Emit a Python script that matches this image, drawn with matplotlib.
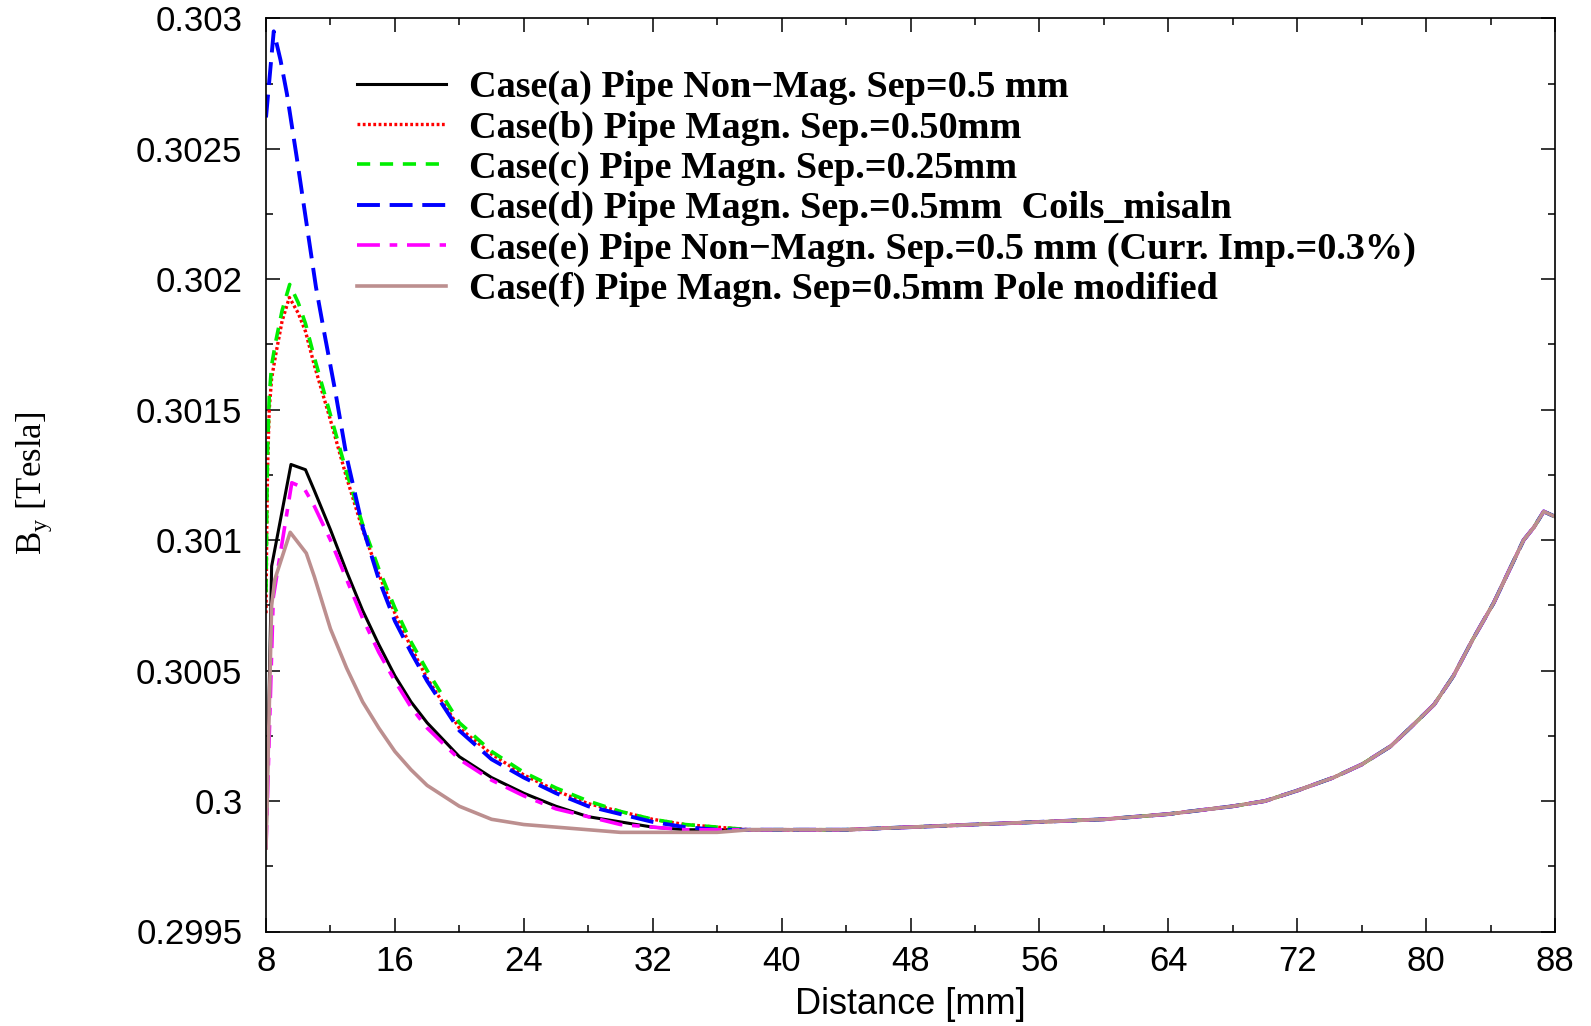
import matplotlib
matplotlib.use("Agg")
import matplotlib.pyplot as plt
from matplotlib.font_manager import FontProperties

# ---------------- data ----------------
x_a = [8.0, 8.35, 9.55, 10.45, 11.0, 12.0, 13.0, 14.0, 15.0, 16.0, 17.0, 18.0,
       20.0, 22.0, 24.0, 26.0, 28.0, 30.0, 32.0, 34.0, 36.0]
by_a = [0.29982, 0.30090, 0.30129, 0.30127, 0.30119, 0.30104, 0.30088, 0.30073,
        0.30060, 0.30048, 0.30038, 0.30030, 0.30017, 0.30009, 0.30003, 0.29998,
        0.29994, 0.29992, 0.29990, 0.29989, 0.29989]

x_b = [8.0, 8.05, 8.1, 8.2, 8.35, 8.6, 9.0, 9.45, 10.0, 10.45, 11.0, 12.0, 13.0,
       14.0, 15.0, 16.0, 17.0, 18.0, 20.0, 22.0, 24.0, 26.0, 28.0, 30.0, 32.0,
       34.0, 36.0]
by_b = [0.30072, 0.30105, 0.30128, 0.30150, 0.30162, 0.30171, 0.30184, 0.30193,
        0.30187, 0.30180, 0.30167, 0.30146, 0.30124, 0.30104, 0.30087, 0.30072,
        0.30059, 0.30047, 0.30028, 0.30018, 0.30010, 0.30004, 0.29999, 0.29996,
        0.29993, 0.29991, 0.29990]

x_c = [8.0, 8.05, 8.1, 8.2, 8.35, 8.6, 9.0, 9.47, 10.0, 10.45, 11.0, 12.0, 13.0,
       14.0, 15.0, 16.0, 17.0, 18.0, 20.0, 22.0, 24.0, 26.0, 28.0, 30.0, 32.0,
       34.0, 36.0]
by_c = [0.30080, 0.30112, 0.30135, 0.30155, 0.30167, 0.30176, 0.30188, 0.30198,
        0.30191, 0.30183, 0.30170, 0.30148, 0.30126, 0.30106, 0.30089, 0.30074,
        0.30061, 0.30050, 0.30030, 0.30019, 0.30011, 0.30005, 0.30000, 0.29996,
        0.29993, 0.29991, 0.29990]

x_d = [8.0, 8.48, 8.9, 9.3, 9.9, 10.5, 11.1, 11.6, 12.3, 13.0, 14.0, 15.0, 16.0,
       17.0, 18.0, 20.0, 22.0, 24.0, 26.0, 28.0, 30.0, 32.0, 34.0, 36.0]
by_d = [0.30262, 0.30295, 0.30284, 0.30271, 0.30247, 0.30222, 0.30197, 0.30180,
        0.30157, 0.30132, 0.30105, 0.30085, 0.30069, 0.30057, 0.30046, 0.30027,
        0.30016, 0.30009, 0.30003, 0.29998, 0.29995, 0.29992, 0.29990, 0.29989]

x_e = [8.0, 8.45, 9.6, 10.35, 11.0, 12.0, 13.0, 14.0, 15.0, 16.0, 17.0, 18.0,
       20.0, 22.0, 24.0, 26.0, 28.0, 30.0, 32.0, 34.0, 36.0]
by_e = [0.29982, 0.30078, 0.30122, 0.30120, 0.30113, 0.30100, 0.30085, 0.30070,
        0.30057, 0.30046, 0.30036, 0.30028, 0.30016, 0.30008, 0.30002, 0.29997,
        0.29994, 0.29991, 0.29990, 0.29989, 0.29989]

x_f = [8.0, 8.35, 8.55, 9.5, 10.5, 11.0, 12.0, 13.0, 14.0, 15.0, 16.0, 17.0,
       18.0, 20.0, 22.0, 24.0, 26.0, 28.0, 30.0, 32.0, 36.0]
by_f = [0.29982, 0.30075, 0.30085, 0.30103, 0.30095, 0.30086, 0.30066, 0.30051,
        0.30038, 0.30028, 0.30019, 0.30012, 0.30006, 0.29998, 0.29993, 0.29991,
        0.29990, 0.29989, 0.29988, 0.29988, 0.29988]

# common far-field part (all cases coincide here)
x_tail = [38.0, 40.0, 44.0, 48.0, 52.0, 56.0, 60.0, 64.0, 68.0, 70.0, 72.0, 74.25,
          76.0, 77.8, 79.0, 80.5, 81.7, 82.9, 84.2, 85.2, 86.05, 86.7, 87.3, 88.0]
by_tail = [0.29989, 0.29989, 0.29989, 0.29990, 0.29991, 0.29992, 0.29993, 0.29995,
           0.29998, 0.30000, 0.30004, 0.30009, 0.30014, 0.30021, 0.30028, 0.30037,
           0.30048, 0.30062, 0.30076, 0.30089, 0.30100, 0.30105, 0.30111, 0.30109]

labels = [
    "Case(a) Pipe Non\u2212Mag. Sep=0.5 mm",
    "Case(b) Pipe Magn. Sep.=0.50mm",
    "Case(c) Pipe Magn. Sep.=0.25mm",
    "Case(d) Pipe Magn. Sep.=0.5mm  Coils_misaln",
    "Case(e) Pipe Non\u2212Magn. Sep.=0.5 mm (Curr. Imp.=0.3%)",
    "Case(f) Pipe Magn. Sep=0.5mm Pole modified",
]

xticks = [8, 16, 24, 32, 40, 48, 56, 64, 72, 80, 88]
yticks = [0.2995, 0.3, 0.3005, 0.301, 0.3015, 0.302, 0.3025, 0.303]
ytick_labels = ["0.2995", "0.3", "0.3005", "0.301", "0.3015", "0.302", "0.3025", "0.303"]

# ---------------- styling ----------------
plt.rcParams['lines.scale_dashes'] = False
plt.rcParams['font.family'] = ['Liberation Sans', 'DejaVu Sans']

W, H = 1591, 1026
fig = plt.figure(figsize=(W / 100, H / 100), dpi=100)
ax = fig.add_axes([266 / W, 94.5 / H, (1555 - 266) / W, (1007.7 - 94.5) / H])

series = [
    (x_a, by_a, dict(color='black', lw=2.2, ls='-')),
    (x_b, by_b, dict(color='#ff0000', lw=2.4, dashes=(2.0, 1.8))),
    (x_c, by_c, dict(color='#00ee00', lw=2.6, dashes=(9.5, 7.0))),
    (x_d, by_d, dict(color='#0000ff', lw=2.8, dashes=(16.5, 7.0))),
    (x_e, by_e, dict(color='#ff00ff', lw=2.6, dashes=(16.5, 7.0, 5.5, 7.0))),
    (x_f, by_f, dict(color='#bc8f8f', lw=2.6, ls='-')),
]
for (xs, ys, st), lab in zip(series, labels):
    ax.plot(list(xs) + x_tail, list(ys) + by_tail, label=lab, **st)

ax.set_xlim(8, 88)
ax.set_ylim(0.2995, 0.303)
ax.set_xticks(xticks)
ax.set_xticks([v + 4 for v in xticks[:-1]], minor=True)
ax.set_yticks(yticks)
ax.set_yticklabels(ytick_labels)
ax.set_yticks([0.29975 + 0.0005 * i for i in range(7)], minor=True)

ax.tick_params(which='both', direction='in', top=True, right=True, color='black')
ax.tick_params(which='major', length=10, width=1.1)
ax.tick_params(which='minor', length=5, width=1.1)
ax.tick_params(axis='x', which='major', labelsize=25, pad=10)
ax.tick_params(axis='y', which='major', labelsize=25, pad=17)
for sp in ax.spines.values():
    sp.set_linewidth(1.2)

ax.set_xlabel("Distance [mm]", fontsize=26, va='center')
ax.xaxis.set_label_coords(0.5, (931.5 - 1004) / 913.2)
ax.set_ylabel(r"B$_\mathregular{y}$ [Tesla]", fontsize=25, family='Liberation Serif',
              ha='center', va='center', rotation=90)
ax.yaxis.set_label_coords((34.5 - 266) / 1289, (931.5 - 483) / 913.2)

leg = ax.legend(loc='upper left', bbox_to_anchor=(357 / W, 1 - 70 / H),
                bbox_transform=fig.transFigure, frameon=False,
                prop=FontProperties(family='Liberation Serif', weight='bold', size=27.5),
                handlelength=2.33, handletextpad=0.6, labelspacing=0.138,
                borderpad=0, borderaxespad=0)

fig.savefig("out.png", dpi=100)
